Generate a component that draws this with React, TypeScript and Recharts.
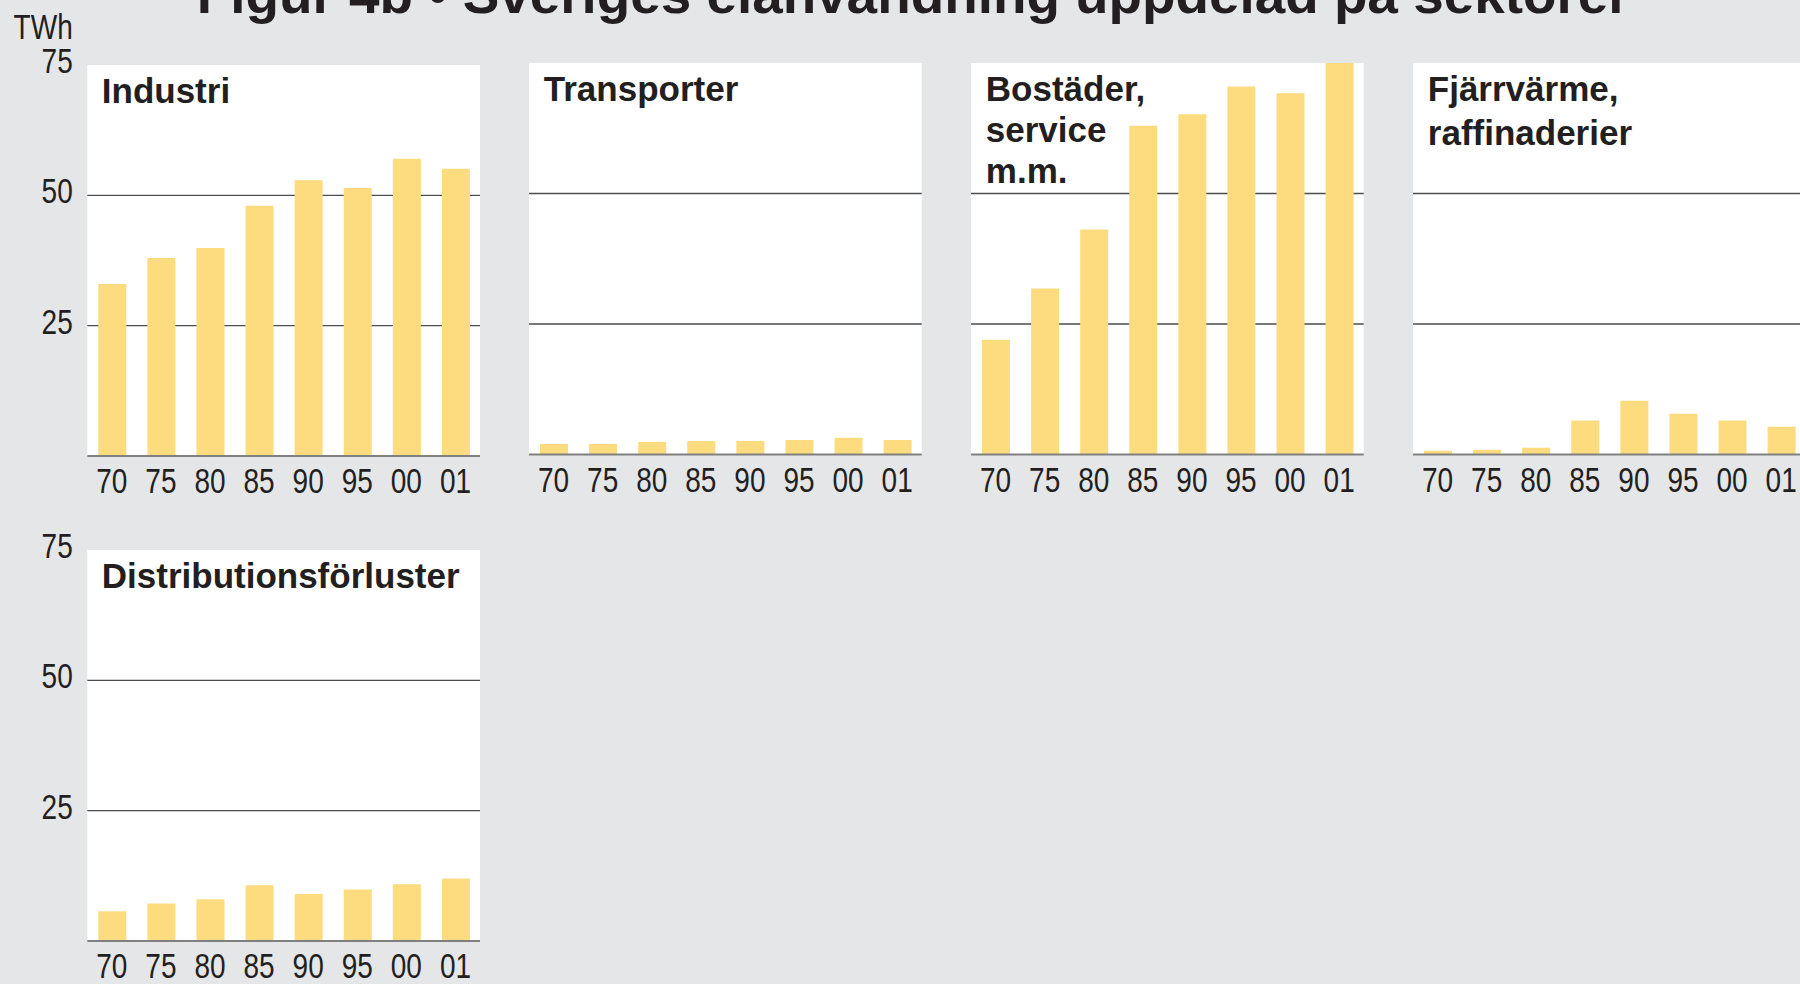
import React from 'react';
import { BarChart, Bar, XAxis, YAxis, CartesianGrid } from 'recharts';

// ---- data ----
const years = ['70', '75', '80', '85', '90', '95', '00', '01'];
const industri = [33.0, 38.0, 39.9, 48.0, 52.9, 51.4, 57.0, 55.1];
const transporter = [2.0, 2.0, 2.4, 2.6, 2.6, 2.8, 3.2, 2.8];
const bostader = [22.0, 31.8, 43.1, 63.0, 65.2, 70.5, 69.2, 75.5];
const fjarrvarme = [0.7, 0.9, 1.3, 6.5, 10.3, 7.8, 6.5, 5.3];
const distribution = [5.7, 7.2, 8.0, 10.7, 9.0, 9.9, 10.9, 12.0];
const yTicks = [25, 50, 75];
const gridValues = [25, 50];
const unitLabel = 'TWh';
const mainTitle = 'Figur 4b • Sveriges elanvändning uppdelad på sektorer';
const titleIndustri = ['Industri'];
const titleTransporter = ['Transporter'];
const titleBostader = ['Bostäder,', 'service', 'm.m.'];
const titleFjarrvarme = ['Fjärrvärme,', 'raffinaderier'];
const titleDistribution = ['Distributionsförluster'];

// ---- style ----
const BG = '#e5e6e8';
const BAR = '#fddc7f';
const TEXT = '#231f20';
const SANS = "'Liberation Sans', Arial, Helvetica, sans-serif";
const NARROW_SCALE = 0.8;
const LABEL_SIZE = 35;
const PLOT_W = 392.7;
const Y_W = 87.3;
const X_H = 44;

type PanelCfg = {
  values: number[];
  title: string[];
  plotLeft: number;
  plotTop: number;
  plotH: number;
  containerTop: number;
  showY: boolean;
  lineH: number;
};

const panels: PanelCfg[] = [
  { values: industri, title: titleIndustri, plotLeft: 87.3, plotTop: 65, plotH: 391, containerTop: 0, showY: true, lineH: 41 },
  { values: transporter, title: titleTransporter, plotLeft: 529.3, plotTop: 63, plotH: 391.5, containerTop: 0, showY: false, lineH: 41 },
  { values: bostader, title: titleBostader, plotLeft: 971.3, plotTop: 63, plotH: 391.5, containerTop: 0, showY: false, lineH: 41 },
  { values: fjarrvarme, title: titleFjarrvarme, plotLeft: 1413.3, plotTop: 63, plotH: 391.5, containerTop: 0, showY: false, lineH: 44.5 },
  { values: distribution, title: titleDistribution, plotLeft: 87.3, plotTop: 550, plotH: 391, containerTop: 520, showY: true, lineH: 41 },
];

const NarrowText = ({ x, y, anchor, dy, children }: any) => (
  <text
    transform={`translate(${x},${y}) scale(${NARROW_SCALE},1)`}
    x={0}
    y={0}
    dy={dy}
    textAnchor={anchor}
    fontSize={LABEL_SIZE}
    fontFamily={SANS}
    fill={TEXT}
  >
    {children}
  </text>
);

const XTick = (props: any) => {
  const { x, y, payload } = props;
  return (
    <NarrowText x={x} y={y} dy="0.72em" anchor="middle">
      {payload.value}
    </NarrowText>
  );
};

const YTick = (props: any) => {
  const { x, y, payload } = props;
  return (
    <NarrowText x={x} y={y - 4.3} dy="0.355em" anchor="end">
      {payload.value}
    </NarrowText>
  );
};

function Panel({ cfg }: { cfg: PanelCfg }) {
  const data = years.map((y, i) => ({ year: y, v: cfg.values[i] }));
  const yW = cfg.showY ? Y_W : 0;
  const marginTop = cfg.plotTop - cfg.containerTop;
  const width = yW + PLOT_W;
  const height = marginTop + cfg.plotH + X_H;
  return (
    <div style={{ position: 'absolute', left: cfg.plotLeft - yW, top: cfg.containerTop, width, height }}>
      <BarChart width={width} height={height} data={data} margin={{ top: marginTop, right: 0, bottom: 0, left: 0 }}>
        <CartesianGrid
          fill="#ffffff"
          vertical={false}
          horizontalValues={gridValues}
          stroke="#4d4d4d"
          strokeWidth={1.3}
        />
        <XAxis
          dataKey="year"
          interval={0}
          height={X_H}
          axisLine={{ stroke: '#808080', strokeWidth: 2 }}
          tickLine={false}
          tickSize={0}
          tickMargin={12}
          tick={<XTick />}
        />
        <YAxis
          hide={!cfg.showY}
          width={Y_W}
          domain={[0, 75]}
          allowDataOverflow
          ticks={yTicks}
          axisLine={false}
          tickLine={false}
          tickSize={0}
          tickMargin={14.6}
          tick={<YTick />}
        />
        <Bar dataKey="v" fill={BAR} barSize={28} isAnimationActive={false} />
      </BarChart>
    </div>
  );
}

export default function App() {
  return (
    <div style={{ position: 'absolute', left: 0, top: 0, width: 1800, height: 984, background: BG, overflow: 'hidden' }}>
      {panels.map((p, i) => (
        <Panel key={i} cfg={p} />
      ))}
      <svg width={1800} height={984} style={{ position: 'absolute', left: 0, top: 0, pointerEvents: 'none' }}>
        <text x={196.7} y={13.3} fontSize={54} fontWeight="bold" fontFamily={SANS} fill={TEXT} textLength={1433} lengthAdjust="spacingAndGlyphs">
          {mainTitle}
        </text>
        <NarrowText x={72.7} y={39.3} anchor="end">
          {unitLabel}
        </NarrowText>
        {panels.map((p, i) =>
          p.title.map((line, j) => (
            <text
              key={`${i}-${j}`}
              x={p.plotLeft + 14.5}
              y={p.plotTop + 37.5 + j * p.lineH}
              fontSize={35}
              fontWeight="bold"
              fontFamily={SANS}
              fill={TEXT}
            >
              {line}
            </text>
          ))
        )}
      </svg>
    </div>
  );
}
